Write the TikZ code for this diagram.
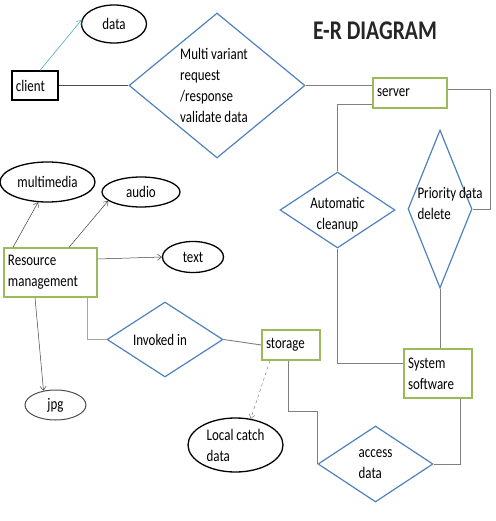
\documentclass[tikz,border=0pt]{standalone}
\usepackage{fontspec}
\setmainfont{Carlito}[FakeStretch=0.8]
\usetikzlibrary{arrows.meta,shapes.geometric,calc}
\definecolor{erblue}{HTML}{4F81BD}
\definecolor{ergreen}{HTML}{9BBB59}
\definecolor{erteal}{HTML}{4BACC6}
\definecolor{ergray}{HTML}{7F7F7F}
\tikzset{
  >={Straight Barb[length=4pt,width=6pt]},
  ertxt/.style={font=\fontsize{16.2}{21}\selectfont},
  erent/.style={ertxt, draw=ergreen, line width=1.3pt, align=left,
                inner xsep=4pt, inner ysep=2pt},
  errel/.style={diamond, draw=erblue, line width=1.2pt, inner sep=0pt},
  erattr/.style={ertxt, ellipse, draw=black, line width=1.3pt, inner sep=0pt},
  erline/.style={draw=ergray, line width=0.9pt},
  erarrow/.style={->, draw=black!75, line width=0.5pt},
}

\begin{document}
\begin{tikzpicture}[x=1pt,y=-1pt]
  \useasboundingbox (0,0) rectangle (495,521);

  % title
  \node[font=\bfseries\fontsize{27}{30}\selectfont, black!85] (title) at (375,31) {E-R DIAGRAM};

  % entities
  \node[erent, draw=black, line width=1.2pt, text width=38pt, minimum height=29pt] (client) at (35,85.5) {client};
  \node[erent, text width=66pt, minimum height=30pt] (server) at (410,93) {server};
  \node[erent, text width=60pt, minimum height=49pt] (sys) at (438,373.5) {System\\software};
  \node[erent, text width=50pt, minimum height=30pt] (storage) at (291,345) {storage};
  \node[erent, text width=85pt, minimum height=49pt] (rm) at (50.5,272.5) {Resource\\management};

  % relationships
  \node[errel, minimum width=176pt, minimum height=145pt,
        label={[ertxt, align=left, xshift=-3pt]center:Multi variant\\request\\/response\\validate data}] (multi) at (217,85.5) {};
  \node[errel, minimum width=115pt, minimum height=76pt,
        label={[ertxt, align=center, yshift=-5pt]center:Automatic\\cleanup}] (auto) at (337.5,210) {};
  \node[errel, minimum width=64pt, minimum height=158pt,
        label={[ertxt, align=left, xshift=10pt, yshift=6pt]center:Priority data\\delete}] (prio) at (440,209) {};
  \node[errel, minimum width=116pt, minimum height=75pt,
        label={[ertxt, xshift=-5pt]center:Invoked in}] (invoked) at (165,339.5) {};
  \node[errel, minimum width=115pt, minimum height=76pt,
        label={[ertxt, align=left]center:access\\data}] (access) at (375.5,464) {};

  % attributes
  \node[erattr, minimum width=65pt, minimum height=38pt] (data) at (114,24) {data};
  \node[erattr, minimum width=95pt, minimum height=40pt] (mm) at (47.5,182) {multimedia};
  \node[erattr, minimum width=78pt, minimum height=30pt] (audio) at (141,192) {audio};
  \node[erattr, minimum width=61pt, minimum height=31pt] (txt) at (193,257) {text};
  \node[erattr, draw=black!70, line width=1pt, minimum width=61pt, minimum height=30pt] (jpg) at (55.5,405) {jpg};
  \node[erattr, align=left, minimum width=95pt, minimum height=54pt] (local) at (235.5,445) {Local catch\\data};

  % connectors
  \draw[->, erteal, line width=0.6pt] ([xshift=5pt]client.north) -- (data.173);
  \draw[erline, draw=black!70, line width=1.6pt] (client.east) -- (multi.west);
  \draw[erline] (multi.east) -- (multi.east -| server.west);
  \draw[erline] ([yshift=4pt]server.east) -- ++(43,0) |- (prio.east);
  \draw[erline] ([yshift=-11pt]server.west) -| (auto.north);
  \draw[erline] (auto.south) |- ([yshift=10pt]sys.west);
  \draw[erline] (prio.south) -- (prio.south |- sys.north);
  \draw[erline] ([xshift=22pt]sys.south) |- (access.east);
  \draw[erline] ([xshift=-3pt]storage.south) |- ($(access.west)+(0,-53)$) -- (access.west);
  \draw[erline] (invoked.east) -- (storage.west);
  \draw[erline, draw=black!35] ([xshift=36.5pt]rm.south) |- (invoked.west);
  \draw[erarrow] ([xshift=-37.5pt]rm.north) -- (mm.-115);
  \draw[erarrow] ([xshift=18.5pt]rm.north) -- (audio.-165);
  \draw[erarrow] ([yshift=13.5pt]rm.east) -- (txt.west);
  \draw[erarrow] ([xshift=-15.5pt]rm.south) -- (jpg.130);
  \draw[erarrow, draw=black!50, dashed] ([xshift=-21pt]storage.south) -- (local.60);

\end{tikzpicture}
\end{document}
